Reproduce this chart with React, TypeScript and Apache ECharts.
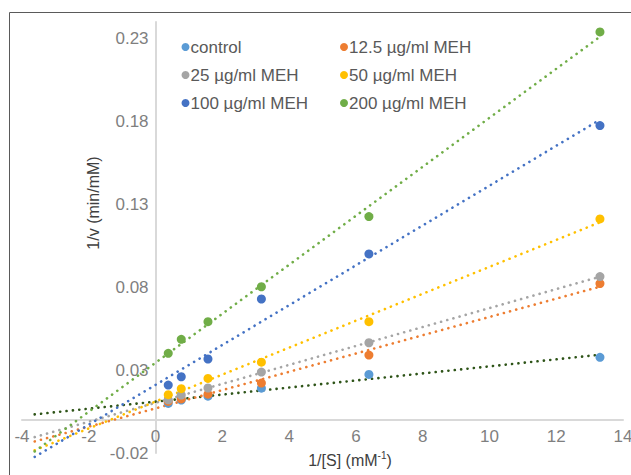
import React, { useEffect, useRef } from "react";
import * as echarts from "echarts";

// 1/[S] values (mM^-1)
const xValues = [0.38, 0.77, 1.57, 3.17, 6.39, 13.31];

const seriesNames = [
  "control",
  "12.5 µg/ml MEH",
  "25 µg/ml MEH",
  "50 µg/ml MEH",
  "100 µg/ml MEH",
  "200 µg/ml MEH",
];

// 1/v values (min/mM)
const control = [0.0099, 0.0119, 0.0143, 0.0191, 0.0274, 0.0377];
const meh12 = [0.0111, 0.0126, 0.0155, 0.0222, 0.0391, 0.0822];
const meh25 = [0.0121, 0.015, 0.0192, 0.0288, 0.0465, 0.0864];
const meh50 = [0.0152, 0.0188, 0.025, 0.0348, 0.0592, 0.1212];
const meh100 = [0.021, 0.026, 0.0367, 0.0729, 0.1001, 0.1775];
const meh200 = [0.0401, 0.0486, 0.0592, 0.0803, 0.1226, 0.234];

const allValues = [control, meh12, meh25, meh50, meh100, meh200];

const markerColors = ["#5B9BD5", "#ED7D31", "#A5A5A5", "#FFC000", "#4472C4", "#70AD47"];
const trendColors = ["#2E5418", "#ED7D31", "#A5A5A5", "#FFC000", "#4472C4", "#70AD47"];

const xMin = -4;
const xMax = 14;
const xInterval = 2;
const yMin = -0.02;
const yMax = 0.24;
const yTickLabels = [-0.02, 0.03, 0.08, 0.13, 0.18, 0.23];
const backwardForecast = 4;

const legendCol1 = [seriesNames[0], seriesNames[2], seriesNames[4]];
const legendCol2 = [seriesNames[1], seriesNames[3], seriesNames[5]];

const xTitle = "{a|1/[S] (mM}{s|-1}{a|)}";
const yTitle = "1/v (min/mM)";

function linearFit(xs: number[], ys: number[]) {
  const n = xs.length;
  const mx = xs.reduce((a, b) => a + b, 0) / n;
  const my = ys.reduce((a, b) => a + b, 0) / n;
  let sxy = 0;
  let sxx = 0;
  for (let i = 0; i < n; i++) {
    sxy += (xs[i] - mx) * (ys[i] - my);
    sxx += (xs[i] - mx) * (xs[i] - mx);
  }
  const slope = sxy / sxx;
  return { slope, intercept: my - slope * mx };
}

const FONT = "'Liberation Sans', Arial, sans-serif";

const W = 631;
const H = 475;
const GRID = { left: 22, right: 8, top: 22, bottom: 22 };

export default function App() {
  const ref = useRef<HTMLDivElement>(null);

  useEffect(() => {
    document.body.style.margin = "0";
    if (!ref.current) return;
    const chart = echarts.init(ref.current, null, { renderer: "svg" });

    const gridW = W - GRID.left - GRID.right;
    const gridH = H - GRID.top - GRID.bottom;
    // move the axes onto the zero lines of each other
    const yAxisOffset = -((0 - xMin) / (xMax - xMin)) * gridW;
    const xAxisOffset = -((0 - yMin) / (yMax - yMin)) * gridH;

    const scatterSeries = seriesNames.map((name, i) => ({
      name,
      type: "scatter",
      data: xValues.map((x, j) => [x, allValues[i][j]]),
      symbol: "circle",
      symbolSize: 9,
      itemStyle: { color: markerColors[i], opacity: 1 },
      z: 3,
    }));

    const trendSeries = seriesNames.map((name, i) => {
      const { slope, intercept } = linearFit(xValues, allValues[i]);
      const x0 = xValues[0] - backwardForecast;
      const x1 = xValues[xValues.length - 1];
      return {
        name: name + " trend",
        type: "line",
        data: [
          [x0, intercept + slope * x0],
          [x1, intercept + slope * x1],
        ],
        showSymbol: false,
        symbol: "none",
        clip: false,
        silent: true,
        lineStyle: {
          color: trendColors[i],
          width: 2.6,
          type: [0.1, 6.3],
          cap: "round",
        },
        z: 2,
      };
    });

    const legendBase = {
      orient: "vertical",
      icon: "circle",
      itemWidth: 8,
      itemHeight: 8,
      itemGap: 11,
      top: 33.5,
      textStyle: { fontSize: 17, color: "#595959", fontFamily: FONT, lineHeight: 17, padding: [0, 0, 0, -4] },
    };

    chart.setOption({
      animation: false,
      textStyle: { fontFamily: FONT },
      grid: { ...GRID, containLabel: false, outerBoundsMode: "none" },
      legend: [
        { ...legendBase, left: 176.5, data: legendCol1 },
        { ...legendBase, left: 335, data: legendCol2 },
      ],
      xAxis: {
        type: "value",
        min: xMin,
        max: xMax,
        interval: xInterval,
        position: "bottom",
        offset: xAxisOffset,
        axisLine: { show: true, onZero: false, lineStyle: { color: "#D9D9D9", width: 2 } },
        axisTick: { show: false },
        splitLine: { show: false },
        axisLabel: { fontSize: 17, color: "#7F7F7F", margin: 8, fontFamily: FONT },
      },
      yAxis: {
        type: "value",
        min: yMin,
        max: yMax,
        position: "left",
        offset: yAxisOffset,
        axisLine: { show: true, onZero: false, lineStyle: { color: "#D9D9D9", width: 2 } },
        axisTick: { show: false },
        splitLine: { show: false },
        axisLabel: {
          customValues: yTickLabels,
          formatter: (v: number) => v.toFixed(2),
          fontSize: 17,
          color: "#7F7F7F",
          margin: 7,
          fontFamily: FONT,
        },
      },
      graphic: [
        {
          type: "rect",
          shape: { x: 9.5, y: 12.5, width: 700, height: 600 },
          style: { fill: "none", stroke: "#5A5A5A", lineWidth: 1 },
          silent: true,
          z: -1,
        },
        {
          type: "text",
          x: 93,
          y: 203,
          rotation: Math.PI / 2,
          style: {
            text: yTitle,
            fontSize: 16,
            fill: "#404040",
            fontFamily: FONT,
            align: "center",
            verticalAlign: "middle",
          },
          silent: true,
        },
        {
          type: "text",
          x: 350,
          y: 460,
          style: {
            text: xTitle,
            fontFamily: FONT,
            fill: "#404040",
            align: "center",
            verticalAlign: "middle",
            rich: {
              a: { fontSize: 16, fill: "#404040", fontFamily: FONT, lineHeight: 20 },
              s: { fontSize: 10, fill: "#404040", fontFamily: FONT, lineHeight: 10, verticalAlign: "top" },
            },
          },
          silent: true,
        },
      ],
      series: [...trendSeries, ...scatterSeries],
    });

    return () => chart.dispose();
  }, []);

  return <div ref={ref} style={{ width: W, height: H }} />;
}
